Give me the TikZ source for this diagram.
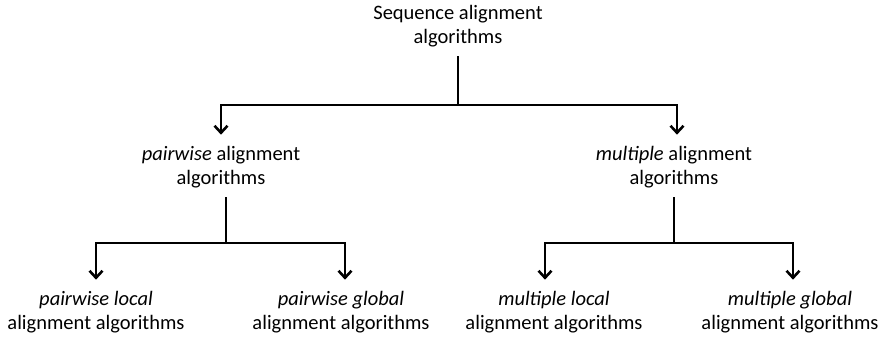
\documentclass[tikz,border=0pt]{standalone}
\usepackage{fontspec}
\setmainfont{Carlito}
\usetikzlibrary{arrows.meta}
\tikzstyle{algo} = [align=center, inner sep=0pt, font=\fontsize{20.5}{24.5}\selectfont]
\tikzset{branch/.style={line width=2.8pt, shorten <=9pt},
    splitarrow/.style={line width=2.8pt, shorten >=11pt, -{Straight Barb[length=7pt,width=13pt,line width=2.6pt]}}}

\begin{document}
\begin{tikzpicture}[x=1pt,y=-1pt]
    \useasboundingbox (0,0) rectangle (889,338);
    % Nodes of the tree
    \node[algo] (seq) at (458,26) {Sequence alignment\\algorithms};
    \node[algo] (pw) at (221,167) {\emph{pairwise} alignment\\algorithms};
    \node[algo] (ml) at (674,167) {\emph{multiple} alignment\\algorithms};
    \node[algo] (pwl) at (96,312) {\emph{pairwise local}\\alignment algorithms};
    \node[algo] (pwg) at (341,312) {\emph{pairwise global}\\alignment algorithms};
    \node[algo] (mll) at (554,312) {\emph{multiple local}\\alignment algorithms};
    \node[algo] (mlg) at (790,312) {\emph{multiple global}\\alignment algorithms};
    %
    % Split points of the branches
    \coordinate (seqsplit) at (458,105);
    \coordinate (pwsplit) at (226,243);
    \coordinate (mlsplit) at (674,243);
    %
    \draw[branch] (seq.south) -- (seqsplit);
    \draw[splitarrow] (seqsplit) -| (pw.north);
    \draw[splitarrow] (seqsplit) -| ([xshift=3pt]ml.north);
    \draw[branch] ([xshift=5pt]pw.south) -- (pwsplit);
    \draw[splitarrow] (pwsplit) -| (pwl.north);
    \draw[splitarrow] (pwsplit) -| ([xshift=4pt]pwg.north);
    \draw[branch] (ml.south) -- (mlsplit);
    \draw[splitarrow] (mlsplit) -| ([xshift=-9pt]mll.north);
    \draw[splitarrow] (mlsplit) -| ([xshift=3pt]mlg.north);
\end{tikzpicture}
\end{document}
